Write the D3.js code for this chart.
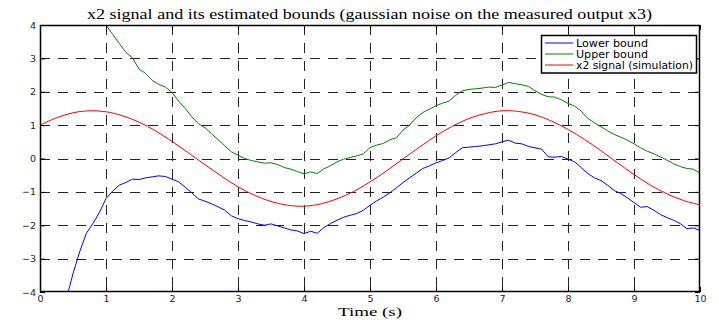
<!DOCTYPE html>
<html>
<head>
<meta charset="utf-8">
<script src="https://cdn.jsdelivr.net/npm/d3@7"></script>
<style>
body { margin: 0; background: #fff; }
svg { display: block; }
</style>
</head>
<body>
<script>
// Values
var xTicks = [0, 1, 2, 3, 4, 5, 6, 7, 8, 9, 10];
var yTicks = [-4, -3, -2, -1, 0, 1, 2, 3, 4];

// x2 signal (simulation), sampled every 0.25 s
var signalT = [0, 0.25, 0.5, 0.75, 1, 1.25, 1.5, 1.75, 2, 2.25, 2.5, 2.75, 3, 3.25, 3.5, 3.75, 4, 4.25, 4.5, 4.75, 5,
               5.25, 5.5, 5.75, 6, 6.25, 6.5, 6.75, 7, 7.25, 7.5, 7.75, 8, 8.25, 8.5, 8.75, 9, 9.25, 9.5, 9.75, 10];
var signalV = [1.00, 1.22, 1.37, 1.43, 1.40, 1.28, 1.09, 0.83, 0.51, 0.17, -0.19, -0.53, -0.85, -1.10, -1.29, -1.40, -1.43,
               -1.36, -1.21, -0.99, -0.70, -0.37, -0.01, 0.34, 0.68, 0.97, 1.20, 1.35, 1.43, 1.41, 1.31, 1.12, 0.87,
               0.57, 0.23, -0.13, -0.48, -0.80, -1.06, -1.26, -1.39];

// Upper bound, every 0.1 s from 0.9 s (first point is above the axes)
var upperT0 = 0.9;
var upperV = [4.25, 4.00, 3.72, 3.45, 3.18, 3.02, 2.68, 2.55, 2.34, 2.22, 2.14,
              1.98, 1.72, 1.50, 1.25, 1.04, 0.92, 0.74, 0.56, 0.38, 0.20,
              0.10, 0.00, -0.06, -0.10, -0.14, -0.13, -0.18, -0.27, -0.32, -0.39,
              -0.46, -0.40, -0.45, -0.31, -0.22, -0.10, -0.02, 0.03, 0.08, 0.14,
              0.33, 0.40, 0.45, 0.56, 0.62, 0.85, 1.00, 1.22, 1.38, 1.48,
              1.58, 1.66, 1.72, 1.90, 2.03, 2.07, 2.09, 2.11, 2.14, 2.13,
              2.20, 2.28, 2.24, 2.21, 2.16, 2.03, 1.92, 1.85, 1.84, 1.76,
              1.65, 1.57, 1.42, 1.20, 1.07, 0.95, 0.83, 0.72, 0.64, 0.55,
              0.44, 0.32, 0.22, 0.14, 0.05, -0.05, -0.16, -0.24, -0.30, -0.32,
              -0.44];

// Lower bound, every 0.1 s from 0.4 s (first point is below the axes)
var lowerT0 = 0.4;
var lowerV = [-4.20, -3.45, -2.80, -2.25, -1.95, -1.62,
              -1.20, -0.98, -0.80, -0.72, -0.62, -0.63, -0.58, -0.55, -0.52, -0.54,
              -0.62, -0.70, -0.86, -1.03, -1.21, -1.28, -1.36, -1.45, -1.55, -1.72,
              -1.80, -1.86, -1.90, -1.96, -2.00, -1.96, -2.02, -2.08, -2.14, -2.17,
              -2.25, -2.18, -2.24, -2.07, -1.95, -1.85, -1.76, -1.70, -1.65, -1.55,
              -1.40, -1.27, -1.16, -1.03, -0.88, -0.72, -0.58, -0.44, -0.30, -0.22,
              -0.13, -0.06, 0.02, 0.18, 0.32, 0.34, 0.36, 0.38, 0.41, 0.44,
              0.50, 0.55, 0.46, 0.44, 0.36, 0.32, 0.28, 0.05, 0.04, 0.06,
              -0.02, -0.10, -0.27, -0.45, -0.58, -0.66, -0.80, -0.96, -1.05, -1.18,
              -1.32, -1.46, -1.44, -1.55, -1.68, -1.77, -1.85, -1.95, -2.10, -2.08,
              -2.16];

var legendNames = ["Lower bound", "Upper bound", "x2 signal (simulation)"];
var legendColors = ["#0000ff", "#008000", "#ff0000"];
var legendTextWidths = [72, 72, 117];

// Layout
var width = 719, height = 320;
var mLeft = 40, mRight = 700, mTop = 25, mBottom = 292;

var svg = d3.select("body").append("svg")
  .attr("width", width)
  .attr("height", height);

svg.append("rect").attr("width", width).attr("height", height).attr("fill", "#fff");

var x = d3.scaleLinear().domain([0, 10]).range([mLeft, mRight]);
var y = d3.scaleLinear().domain([-4, 4]).range([mBottom, mTop]);

svg.append("defs").append("clipPath").attr("id", "plotclip")
  .append("rect").attr("x", mLeft).attr("y", mTop).attr("width", mRight - mLeft).attr("height", mBottom - mTop);

// Grid
var grid = svg.append("g").attr("stroke", "#222").attr("stroke-width", 1).attr("stroke-dasharray", "10,8");
grid.selectAll(".gx").data(xTicks.slice(1, -1)).enter().append("line")
  .attr("x1", function(d){ return Math.round(x(d)) + 0.5; })
  .attr("x2", function(d){ return Math.round(x(d)) + 0.5; })
  .attr("y1", mTop).attr("y2", mBottom);
grid.selectAll(".gy").data(yTicks.slice(1, -1)).enter().append("line")
  .attr("y1", function(d){ return Math.round(y(d)) + 0.5; })
  .attr("y2", function(d){ return Math.round(y(d)) + 0.5; })
  .attr("x1", mLeft).attr("x2", mRight);

// Series
function pts(t0, vals){
  return vals.map(function(v, i){ return [t0 + i * 0.1, v]; });
}
var line = d3.line().x(function(d){ return x(d[0]); }).y(function(d){ return y(d[1]); });
var plot = svg.append("g").attr("clip-path", "url(#plotclip)").attr("fill", "none").attr("stroke-width", 1);
plot.append("path").datum(pts(lowerT0, lowerV)).attr("d", line).attr("stroke", legendColors[0]);
plot.append("path").datum(pts(upperT0, upperV)).attr("d", line).attr("stroke", legendColors[1]);
plot.append("path").datum(signalT.map(function(t, i){ return [t, signalV[i]]; }))
  .attr("d", line.curve(d3.curveCatmullRom)).attr("stroke", legendColors[2]);

// Axes (MATLAB style: ticks inside, on both sides)
var axFont = "'DejaVu Sans', Arial, sans-serif";
var gx = svg.append("g").attr("transform", "translate(0," + mBottom + ")")
  .call(d3.axisBottom(x).tickValues(xTicks).tickSize(-5).tickPadding(3).tickFormat(d3.format("d")));
var gxt = svg.append("g").attr("transform", "translate(0," + mTop + ")")
  .call(d3.axisTop(x).tickValues(xTicks).tickSize(-5).tickFormat(""));
var gy = svg.append("g").attr("transform", "translate(" + mLeft + ",0)")
  .call(d3.axisLeft(y).tickValues(yTicks).tickSize(-5).tickPadding(4).tickFormat(d3.format("d")));
var gyr = svg.append("g").attr("transform", "translate(" + mRight + ",0)")
  .call(d3.axisRight(y).tickValues(yTicks).tickSize(-5).tickFormat(""));
[gx, gxt, gy, gyr].forEach(function(g){
  g.select(".domain").remove();
  g.selectAll("line").attr("stroke", "#000");
  g.selectAll("text").attr("font-family", axFont).attr("font-size", 9.5).attr("fill", "#222");
});

svg.append("rect").attr("x", mLeft + 0.5).attr("y", mTop + 0.5)
  .attr("width", mRight - mLeft - 1).attr("height", mBottom - mTop - 1)
  .attr("fill", "none").attr("stroke", "#000").attr("stroke-width", 1.5);

// Title and label
var serif = "'Liberation Serif', 'Times New Roman', serif";
svg.append("text").attr("x", 87).attr("y", 18.5)
  .attr("font-family", serif).attr("font-size", 15)
  .attr("textLength", 565).attr("lengthAdjust", "spacingAndGlyphs")
  .text("x2 signal and its estimated bounds (gaussian noise on the measured output x3)");
svg.append("text").attr("x", 338).attr("y", 316)
  .attr("font-family", serif).attr("font-size", 13.5)
  .attr("textLength", 64).attr("lengthAdjust", "spacingAndGlyphs")
  .text("Time (s)");

// Legend
var lg = svg.append("g").attr("transform", "translate(541,35)");
lg.append("rect").attr("x", 0.5).attr("y", 0.5).attr("width", 155).attr("height", 37.5)
  .attr("fill", "#fff").attr("stroke", "#000").attr("stroke-width", 1.5);
legendNames.forEach(function(name, i){
  var yy = 8 + i * 11;
  lg.append("line").attr("x1", 4).attr("x2", 32).attr("y1", yy).attr("y2", yy)
    .attr("stroke", legendColors[i]).attr("stroke-width", 1);
  lg.append("text").attr("x", 35).attr("y", yy + 3.5)
    .attr("font-family", axFont).attr("font-size", 10)
    .attr("textLength", legendTextWidths[i]).attr("lengthAdjust", "spacingAndGlyphs")
    .text(name);
});
</script>
</body>
</html>
